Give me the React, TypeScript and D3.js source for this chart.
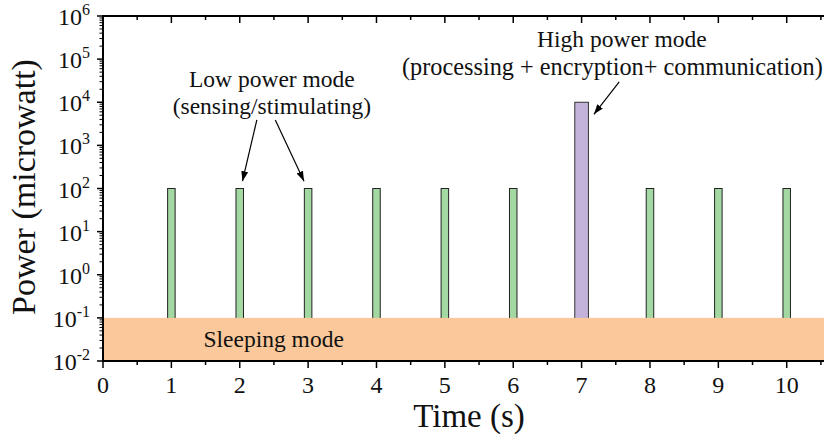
import React from "react";
import * as d3 from "d3";

const lowTimes = [1, 2, 3, 4, 5, 6, 8, 9, 10];
const lowPower = [100, 100, 100, 100, 100, 100, 100, 100, 100];
const highTimes = [7];
const highPower = [10000];
const sleepRange = [0.01, 0.1];
const xTicks = [0, 1, 2, 3, 4, 5, 6, 7, 8, 9, 10];
const yExps = [-2, -1, 0, 1, 2, 3, 4, 5, 6];

const W = 824;
const H = 439;
const FS = { fontFamily: '"Liberation Serif", "Times New Roman", Times, serif' };

export default function App() {
  const x = d3.scaleLinear().domain([0, 10.5]).range([103, 820.9]);
  const y = d3.scaleLog().domain([1e-2, 1e6]).range([361, 16]);
  const xEnd = x.invert(W + 2);
  const lowW = 0.11;
  const highW = 0.2;

  const minorY: number[] = [];
  for (let e = -2; e < 6; e++) for (let k = 2; k <= 9; k++) minorY.push(k * Math.pow(10, e));
  const minorX: number[] = d3.range(0.5, 10.6, 1);

  const arrows = [
    { x1: 2.25, y1: Math.pow(10, 3.59), x2: 2.04, y2: Math.pow(10, 2.17) },
    { x1: 2.52, y1: Math.pow(10, 3.59), x2: 2.94, y2: Math.pow(10, 2.17) },
    { x1: 7.55, y1: Math.pow(10, 4.47), x2: 7.18, y2: Math.pow(10, 3.72) },
  ];

  return (
    <svg width={W} height={H} style={{ position: "absolute", left: 0, top: 0, background: "#fff" }}>
      <defs>
        <marker id="ah" viewBox="0 0 10 10" refX="10" refY="5" markerWidth="10" markerHeight="10" markerUnits="userSpaceOnUse" orient="auto">
          <path d="M0,1.5 L10,5 L0,8.5 Z" fill="#000" />
        </marker>
      </defs>
      {/* bars */}
      {lowTimes.map((t, i) => (
        <rect key={"l" + i} x={x(t - lowW / 2)} y={y(lowPower[i])} width={x(t + lowW / 2) - x(t - lowW / 2)}
          height={y(sleepRange[0]) - y(lowPower[i])} fill="#a3d8a2" stroke="#222" strokeWidth={1} />
      ))}
      {highTimes.map((t, i) => (
        <rect key={"h" + i} x={x(t - highW / 2)} y={y(highPower[i])} width={x(t + highW / 2) - x(t - highW / 2)}
          height={y(sleepRange[0]) - y(highPower[i])} fill="#c3b2da" stroke="#333" strokeWidth={1} />
      ))}
      {/* sleeping band */}
      <rect x={x(0)} y={y(sleepRange[1])} width={x(xEnd) - x(0)} height={y(sleepRange[0]) - y(sleepRange[1])} fill="#fac89a" />
      <text style={FS} x={x(1.47)} y={y(0.032) + 8} fontSize={23.5} fill="#111">Sleeping mode</text>

      {/* axes lines */}
      <line x1={x(0)} x2={W} y1={y(1e6)} y2={y(1e6)} stroke="#000" strokeWidth={2} />
      <line x1={x(0)} x2={W} y1={y(1e-2)} y2={y(1e-2)} stroke="#000" strokeWidth={2} />
      <line x1={x(0)} x2={x(0)} y1={y(1e6) - 1} y2={y(1e-2) + 1} stroke="#000" strokeWidth={2} />

      {/* y ticks */}
      {yExps.map((e) => (
        <g key={"ye" + e}>
          <line x1={x(0) - 6} x2={x(0)} y1={y(Math.pow(10, e))} y2={y(Math.pow(10, e))} stroke="#000" strokeWidth={1.5} />
          <text style={FS} x={90} y={y(Math.pow(10, e)) + 9} fontSize={24} textAnchor="end" fill="#111">
            10<tspan style={FS} dy={-10} fontSize={16}>{e}</tspan>
          </text>
        </g>
      ))}
      {minorY.map((v, i) => (
        <line key={"ym" + i} x1={x(0) - 3.5} x2={x(0)} y1={y(v)} y2={y(v)} stroke="#000" strokeWidth={1} />
      ))}
      {/* x ticks */}
      {xTicks.map((t) => (
        <g key={"xt" + t}>
          <line x1={x(t)} x2={x(t)} y1={y(1e-2)} y2={y(1e-2) + 7} stroke="#000" strokeWidth={1.5} />
          <line x1={x(t)} x2={x(t)} y1={y(1e6)} y2={y(1e6) + 7} stroke="#000" strokeWidth={1.5} />
          <text style={FS} x={x(t)} y={393} fontSize={24} textAnchor="middle" fill="#111">{t}</text>
        </g>
      ))}
      {minorX.map((t, i) => (
        <g key={"xm" + i}>
          <line x1={x(t)} x2={x(t)} y1={y(1e-2)} y2={y(1e-2) + 4} stroke="#000" strokeWidth={1.5} />
          <line x1={x(t)} x2={x(t)} y1={y(1e6)} y2={y(1e6) + 4} stroke="#000" strokeWidth={1.5} />
        </g>
      ))}

      {/* titles */}
      <text style={FS} x={469} y={427} fontSize={33} textAnchor="middle" fill="#111">Time (s)</text>
      <text style={FS} transform={`translate(35,187) rotate(-90)`} fontSize={34} textAnchor="middle" fill="#111">Power (microwatt)</text>

      {/* annotations */}
      <text style={FS} x={x(2.47)} y={87} fontSize={23.5} textAnchor="middle" fill="#111">Low power mode</text>
      <text style={FS} x={x(2.47)} y={114} fontSize={23.5} textAnchor="middle" fill="#111">(sensing/stimulating)</text>
      <text style={FS} x={x(7.59)} y={47} fontSize={23.5} textAnchor="middle" fill="#111">High power mode</text>
      <text style={FS} x={x(7.45)} y={75} fontSize={24.3} textAnchor="middle" fill="#111">(processing + encryption+ communication)</text>
      {arrows.map((a, i) => (
        <line key={"a" + i} x1={x(a.x1)} y1={y(a.y1)} x2={x(a.x2)} y2={y(a.y2)} stroke="#000" strokeWidth={1.2} markerEnd="url(#ah)" />
      ))}
    </svg>
  );
}
